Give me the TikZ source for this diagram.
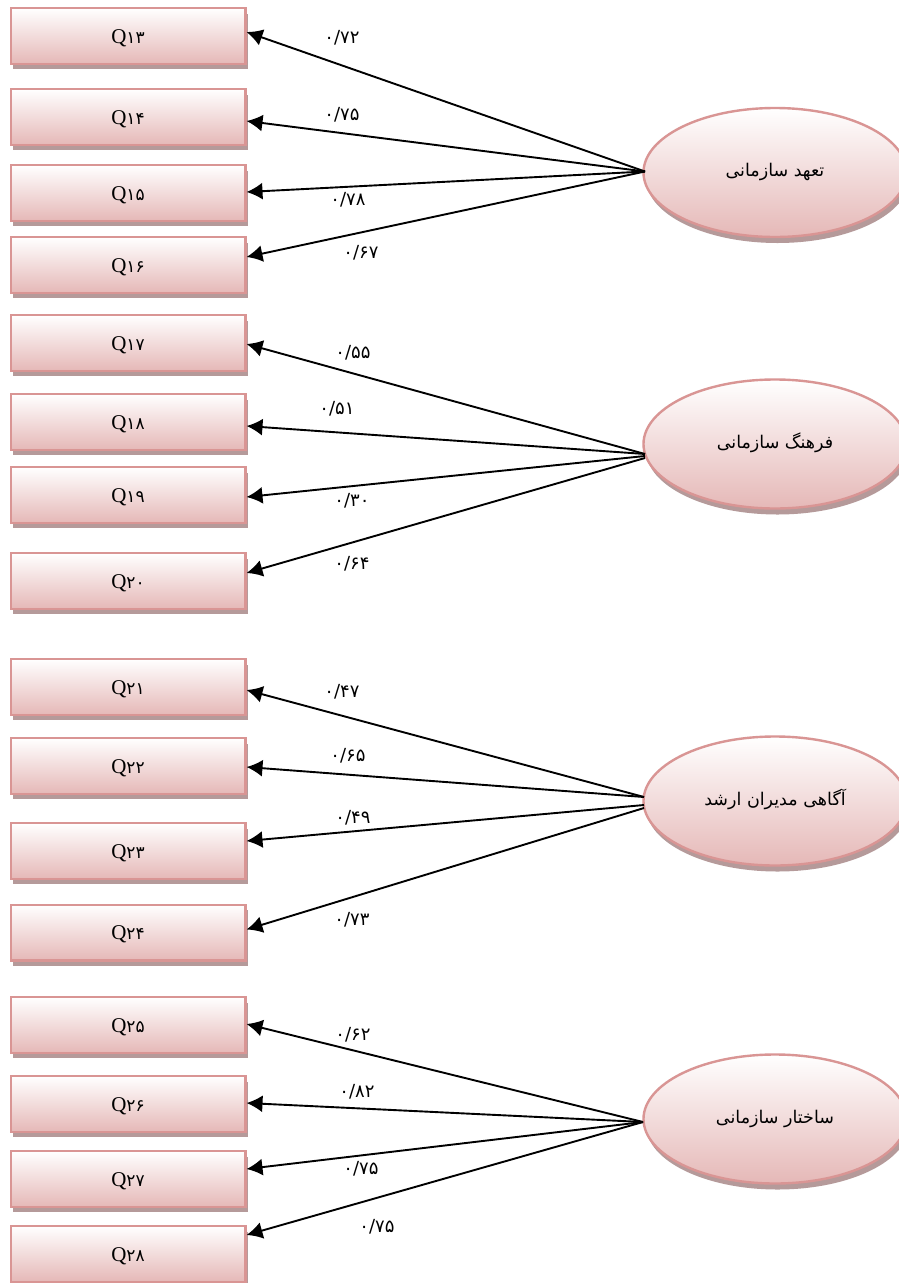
\documentclass[tikz,border=0pt]{standalone}
\usepackage{fontspec}
\usetikzlibrary{shapes.geometric,arrows.meta,shadows}
\setmainfont{Liberation Serif}
\newfontfamily\arabicfont[Script=Arabic]{DejaVu Sans}
\TeXXeTstate=1
\definecolor{edgecol}{HTML}{D99594}
\definecolor{fillend}{HTML}{E5B8B7}
\definecolor{shadecol}{HTML}{B59A9A}
\tikzset{
  x=1pt,y=-1pt,
  itembox/.style={rectangle,draw=edgecol,line width=2.4pt,top color=white,bottom color=fillend,
    minimum width=234.6pt,minimum height=55.6pt,inner sep=0pt,text height=14pt,text depth=0pt,font=\fontsize{21}{24}\selectfont,
    general shadow={shadow xshift=2.5pt,shadow yshift=-5.5pt,fill=shadecol}},
  factor/.style={ellipse,draw=edgecol,line width=2.4pt,top color=white,bottom color=fillend,
    minimum width=263pt,minimum height=129pt,inner sep=0pt,text height=14pt,text depth=6pt,font=\fontsize{17.5}{20}\selectfont\arabicfont,
    general shadow={shadow xshift=2.5pt,shadow yshift=-6pt,fill=shadecol}},
  conn/.style={draw=black,line width=1.9pt,-{Latex[length=16pt,width=17pt]}},
  coef/.style={inner sep=0pt,yshift=-1pt,font=\fontsize{18}{20}\selectfont\arabicfont}
}
\newcommand{\fa}[1]{{\arabicfont\fontsize{17}{20}\selectfont #1}}
\newcommand{\qtext}[1]{Q\fa{#1}}
\newcommand{\rtltext}[1]{\beginR #1\endR}
\begin{document}
\begin{tikzpicture}
\useasboundingbox (0,0) rectangle (899,1283);
\clip (0,0) rectangle (899,1283);
\fill[white] (0,0) rectangle (899,1283);
\node[itembox] (q13) at (128,36) {\qtext{۱۳}};
\node[itembox] (q14) at (128,117) {\qtext{۱۴}};
\node[itembox] (q15) at (128,193) {\qtext{۱۵}};
\node[itembox] (q16) at (128,265) {\qtext{۱۶}};
\node[itembox] (q17) at (128,343) {\qtext{۱۷}};
\node[itembox] (q18) at (128,422) {\qtext{۱۸}};
\node[itembox] (q19) at (128,495) {\qtext{۱۹}};
\node[itembox] (q20) at (128,581) {\qtext{۲۰}};
\node[itembox] (q21) at (128,687) {\qtext{۲۱}};
\node[itembox] (q22) at (128,766) {\qtext{۲۲}};
\node[itembox] (q23) at (128,851) {\qtext{۲۳}};
\node[itembox] (q24) at (128,932.5) {\qtext{۲۴}};
\node[itembox] (q25) at (128,1025) {\qtext{۲۵}};
\node[itembox] (q26) at (128,1104) {\qtext{۲۶}};
\node[itembox] (q27) at (128,1179) {\qtext{۲۷}};
\node[itembox] (q28) at (128,1254) {\qtext{۲۸}};
\node[factor] (f1) at (775,172.5) {\rtltext{تعهد سازمانی}};
\node[factor] (f2) at (775,444) {\rtltext{فرهنگ سازمانی}};
\node[factor] (f3) at (775,801) {\rtltext{آگاهی مدیران ارشد}};
\node[factor] (f4) at (775,1119) {\rtltext{ساختار سازمانی}};
\coordinate (o1) at (645,171.5);
\coordinate (o2a) at (645,454);
\coordinate (o2b) at (645,456);
\coordinate (o2c) at (645,458);
\coordinate (o3a) at (644,797);
\coordinate (o3b) at (644,805);
\coordinate (o3c) at (644,808);
\coordinate (o4) at (643,1122);
\draw[conn] (o1) -- ([yshift=4pt]q13.east);
\draw[conn] (o1) -- ([yshift=-4pt]q14.east);
\draw[conn] (o1) -- ([yshift=1pt]q15.east);
\draw[conn] (o1) -- ([yshift=8pt]q16.east);
\draw[conn] (o2a) -- ([yshift=-1pt]q17.east);
\draw[conn] (o2a) -- ([yshift=-4pt]q18.east);
\draw[conn] (o2b) -- ([yshift=-2pt]q19.east);
\draw[conn] (o2c) -- ([yshift=8pt]q20.east);
\draw[conn] (o3a) -- ([yshift=-3pt]q21.east);
\draw[conn] (o3a) -- ([yshift=-1pt]q22.east);
\draw[conn] (o3b) -- ([yshift=10pt]q23.east);
\draw[conn] (o3c) -- ([yshift=3pt]q24.east);
\draw[conn] (o4) -- ([yshift=1pt]q25.east);
\draw[conn] (o4) -- ([yshift=1pt]q26.east);
\draw[conn] (o4) -- ([yshift=10pt]q27.east);
\draw[conn] (o4) -- ([yshift=19pt]q28.east);
\node[coef] (c1) at (342,37) {۰/۷۲};
\node[coef] (c2) at (342,114) {۰/۷۵};
\node[coef] (c3) at (348,199) {۰/۷۸};
\node[coef] (c4) at (361,252) {۰/۶۷};
\node[coef] (c5) at (353,352) {۰/۵۵};
\node[coef] (c6) at (337,408) {۰/۵۱};
\node[coef] (c7) at (352,500) {۰/۳۰};
\node[coef] (c8) at (352,563) {۰/۶۴};
\node[coef] (c9) at (342,691) {۰/۴۷};
\node[coef] (c10) at (348,755) {۰/۶۵};
\node[coef] (c11) at (353,817) {۰/۴۹};
\node[coef] (c12) at (352,919) {۰/۷۳};
\node[coef] (c13) at (353,1034) {۰/۶۲};
\node[coef] (c14) at (357,1091) {۰/۸۲};
\node[coef] (c15) at (361,1168) {۰/۷۵};
\node[coef] (c16) at (377,1226) {۰/۷۵};
\end{tikzpicture}
\end{document}
